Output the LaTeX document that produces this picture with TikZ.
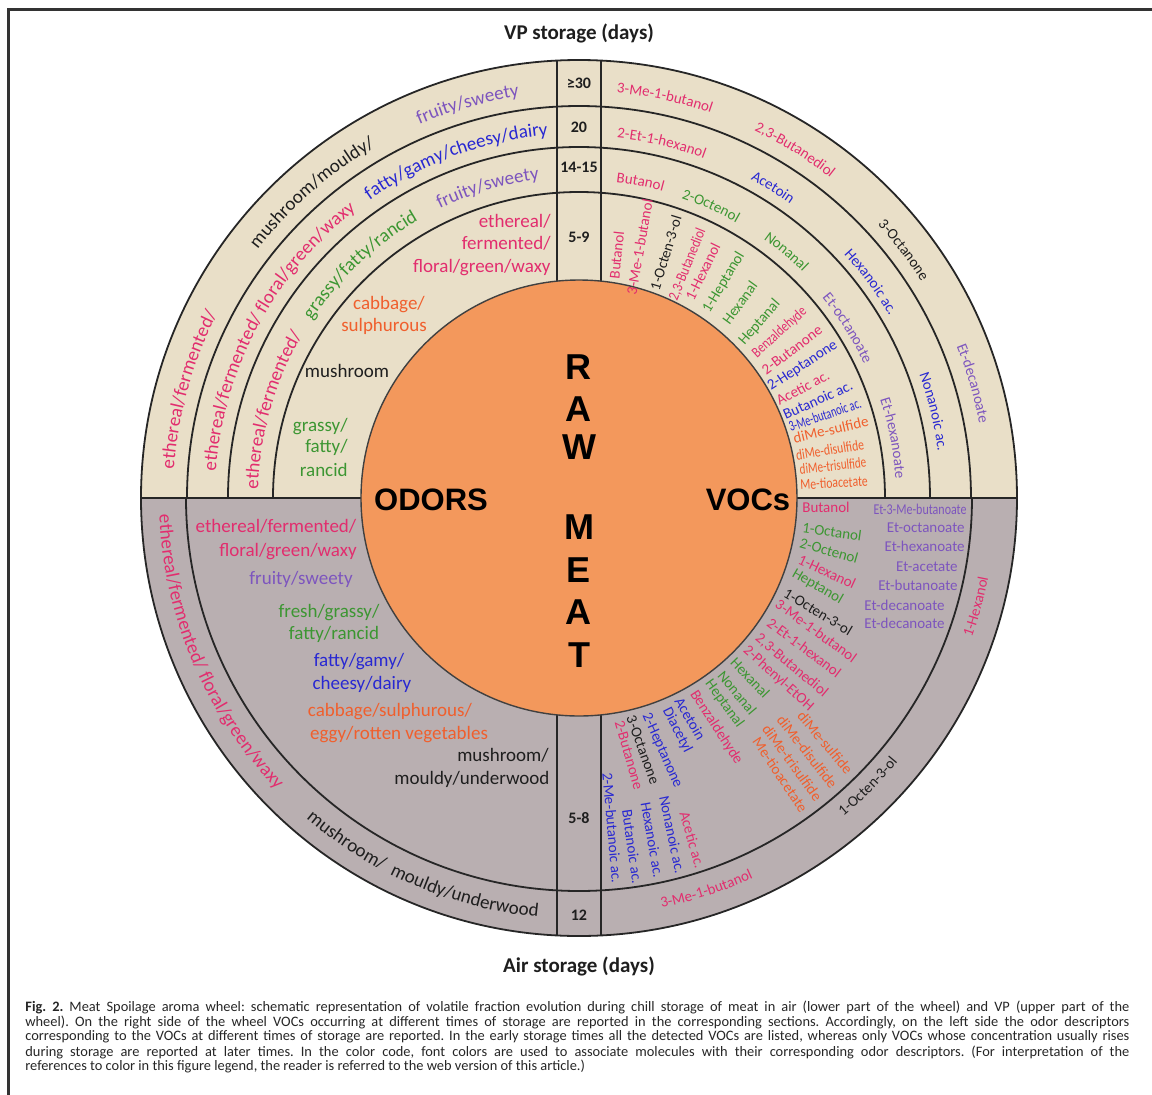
\documentclass[tikz,border=0pt]{standalone}
\usepackage{fontspec}
\usepackage{graphicx}
\setmainfont{Carlito}
\newfontfamily\heavyfont{Liberation Sans}
\usetikzlibrary{decorations.text}

\definecolor{wheelbeige}{RGB}{233,223,200}
\definecolor{wheelmauve}{RGB}{185,175,177}
\definecolor{meatorange}{RGB}{243,152,92}
\definecolor{cpink}{RGB}{226,45,110}
\definecolor{cpurple}{RGB}{125,85,190}
\definecolor{cblue}{RGB}{40,40,210}
\definecolor{cgreen}{RGB}{60,150,50}
\definecolor{corange}{RGB}{240,95,45}
\definecolor{cblack}{RGB}{30,30,30}

% text set along a ring, read clockwise (upper half) or counter-clockwise (lower half)
% #1 baseline radius, #2 centre angle, #3 colour, #4 font size, #5 text
\newcommand\ringtextcw[5]{\path[decorate,decoration={text along path,text align=center,text color=#3,text={|\fontsize{#4}{#4}\selectfont|#5}}] (#2+40:#1) arc[start angle=#2+40,end angle=#2-40,radius=#1];}
\newcommand\ringtextccw[5]{\path[decorate,decoration={text along path,text align=center,text color=#3,text={|\fontsize{#4}{#4}\selectfont|#5}}] (#2-40:#1) arc[start angle=#2-40,end angle=#2+40,radius=#1];}
\newcommand\squeeze[2]{\scalebox{#1}[1]{#2}}

\tikzset{
  ring/.style={draw=black!85, line width=0.9pt},
  odor/.style={inner sep=0pt, font=\fontsize{9.5}{11}\selectfont, text height=0.68em, text depth=0.2em},
  voc/.style={inner sep=0pt, font=\fontsize{7.5}{9}\selectfont, text height=0.68em, text depth=0.2em},
  day/.style={inner sep=0pt, font=\fontsize{8}{9}\selectfont\bfseries, text=cblack},
  heading/.style={inner sep=0pt, font=\fontsize{10.5}{12}\selectfont\bfseries, text=cblack},
  big/.style={inner sep=0pt, font=\heavyfont\bfseries\fontsize{18}{18}\selectfont, text=black},
  caption/.style={inner sep=0pt, anchor=west, font=\fontsize{7.2}{7.5}\selectfont\frenchspacing, text=black!85},
}

\begin{document}
\begin{tikzpicture}[x=0.5pt,y=0.5pt]
\useasboundingbox[fill=white] (-579,498) rectangle (573,-596);

% frame
\draw[line width=1.5pt, black!80] (-570,-600) -- (-570,489) -- (580,489);

% halves of the wheel
\fill[wheelbeige] (438,0) arc[start angle=0,end angle=180,radius=438] -- cycle;
\fill[wheelmauve] (-438,0) arc[start angle=180,end angle=360,radius=438] -- cycle;

% rings
\draw[ring] (0,0) circle[radius=438];
\foreach \r in {392,351,306} \draw[ring] (\r,0) arc[start angle=0,end angle=180,radius=\r];
\draw[ring] (-393,0) arc[start angle=180,end angle=360,radius=393];
\draw[ring] (-438,0) -- (-218,0);
\draw[ring] (218,0) -- (438,0);
% column of storage days
\draw[ring] (-22,437.4) -- (-22,216.9);
\draw[ring] (22,437.4) -- (22,216.9);
\draw[ring] (-22,-437.4) -- (-22,-216.9);
\draw[ring] (22,-437.4) -- (22,-216.9);

% raw meat core
\filldraw[fill=meatorange, draw=black!75, line width=0.7pt] (0,0) circle[radius=218];

% headings
\node[heading] (vp) at (0,465) {VP storage (days)};
\node[heading] (air) at (0,-468) {Air storage (days)};

% storage days
\node[day] (d30) at (0,415) {≥30};
\node[day] (d20) at (0,371) {20};
\node[day] (d14) at (0,331) {14-15};
\node[day] (d5) at (0,261) {5-9};
\node[day] (a5) at (0,-320) {5-8};
\node[day] (a12) at (0,-417) {12};

% core lettering
\node[big] (r1) at (0,131) {R};
\node[big] (r2) at (0,89) {A};
\node[big] (r3) at (0,51) {W};
\node[big] (m1) at (0,-29) {M};
\node[big] (m2) at (0,-72) {E};
\node[big] (m3) at (0,-114) {A};
\node[big] (m4) at (0,-157) {T};
\node[big, font=\heavyfont\bfseries\fontsize{15.5}{16}\selectfont] (odors) at (-148,-2) {ODORS};
\node[big, font=\heavyfont\bfseries\fontsize{15.5}{16}\selectfont] (vocs) at (169,-2) {VOCs};

% ---------- upper left: odors, vacuum packed ----------
\ringtextcw{406}{105.8}{cpurple}{9.5}{fruity/sweety}
\ringtextcw{406}{131.2}{cblack}{9.5}{mushroom/mouldy/}
\ringtextcw{406}{164.5}{cpink}{9.5}{ethereal/fermented/}
\ringtextcw{364}{110}{cblue}{9.5}{fatty/gamy/cheesy/dairy}
\ringtextcw{364}{151.8}{cpink}{9.5}{ethereal/fermented/ floral/green/waxy}
\ringtextcw{321}{106.4}{cpurple}{9.5}{fruity/sweety}
\ringtextcw{321}{133.2}{cgreen}{9.5}{grassy/fatty/rancid}
\ringtextcw{321}{164}{cpink}{9.5}{ethereal/fermented/}

\node[odor, text=cpink, anchor=east] (ul1) at (-28,275) {ethereal/};
\node[odor, text=cpink, anchor=east] (ul2) at (-28,253) {fermented/};
\node[odor, text=cpink, anchor=east] (ul3) at (-28,230) {floral/green/waxy};
\node[odor, text=corange] (ul4) at (-190,193) {cabbage/};
\node[odor, text=corange] (ul5) at (-195,171) {sulphurous};
\node[odor, text=cblack] (ul6) at (-232,125) {mushroom};
\node[odor, text=cgreen, anchor=east] (ul7) at (-231,71) {grassy/};
\node[odor, text=cgreen, anchor=east] (ul8) at (-231,50) {fatty/};
\node[odor, text=cgreen, anchor=east] (ul9) at (-231,26) {rancid};

% ---------- upper right: VOCs, vacuum packed ----------
\ringtextcw{407}{77.9}{cpink}{7.5}{3-Me-1-butanol}
\ringtextcw{407}{58.2}{cpink}{7.5}{2,3-Butanediol}
\ringtextcw{405}{37.4}{cblack}{7.5}{3-Octanone}
\ringtextcw{407}{16.2}{cpurple}{7.5}{Et-decanoate}
\ringtextcw{362}{76.9}{cpink}{7.5}{2-Et-1-hexanol}
\ringtextcw{362}{58}{cblue}{7.5}{Acetoin}
\ringtextcw{360}{36.5}{cblue}{7.5}{Hexanoic ac.}
\ringtextcw{362}{13.7}{cblue}{7.5}{Nonanoic ac.}
\ringtextcw{318}{79}{cpink}{7.5}{Butanol}
\ringtextcw{317}{65.7}{cgreen}{7.5}{2-Octenol}
\ringtextcw{318}{49.9}{cgreen}{7.5}{Nonanal}
\ringtextcw{315}{32.3}{cpurple}{7.5}{Et-octanoate}
\ringtextcw{317}{10.8}{cpurple}{7.5}{Et-hexanoate}

\node[voc, text=cpink, rotate=84] (ur1) at (38,243) {Butanol};
\node[voc, text=cpink, rotate=80] (ur2) at (61,251) {3-Me-1-butanol};
\node[voc, text=cblack, rotate=73] (ur3) at (87,245) {1-Octen-3-ol};
\node[voc, text=cpink, rotate=68] (ur4) at (108,234) {\squeeze{0.85}{2,3-Butanediol}};
\node[voc, text=cpink, rotate=64] (ur5) at (124,226) {1-Hexanol};
\node[voc, text=cgreen, rotate=59] (ur6) at (144,216) {1-Heptanol};
\node[voc, text=cgreen, rotate=54] (ur7) at (161,195) {Hexanal};
\node[voc, text=cgreen, rotate=49] (ur8) at (180,176) {Heptanal};
\node[voc, text=cpink, rotate=42] (ur9) at (200,166) {\squeeze{0.8}{Benzaldehyde}};
\node[voc, text=cpink, rotate=37] (ur10) at (213,148) {2-Butanone};
\node[voc, text=cblue, rotate=33] (ur11) at (223,133) {2-Heptanone};
\node[voc, text=cpink, rotate=28] (ur12) at (224,110) {Acetic ac.};
\node[voc, text=cblue, rotate=24] (ur13) at (239,98) {Butanoic ac.};
\node[voc, text=cblue, rotate=19] (ur14) at (246,83) {\squeeze{0.68}{3-Me-butanoic ac.}};
\node[voc, text=corange, rotate=13] (ur15) at (252,68) {diMe-sulfide};
\node[voc, text=corange, rotate=9] (ur16) at (251,48) {\squeeze{0.78}{diMe-disulfide}};
\node[voc, text=corange, rotate=6] (ur17) at (254,32) {\squeeze{0.74}{diMe-trisulfide}};
\node[voc, text=corange, rotate=3] (ur18) at (255,15) {\squeeze{0.78}{Me-tioacetate}};

% ---------- lower left: odors, air ----------
\ringtextccw{420}{-156.9}{cpink}{9.5}{ethereal/fermented/ floral/green/waxy}
\ringtextccw{421}{-113}{cblack}{9.5}{mushroom/ \ mouldy/underwood}

\node[odor, text=cpink] (ll1) at (-303,-30) {ethereal/fermented/};
\node[odor, text=cpink] (ll2) at (-291,-54) {floral/green/waxy};
\node[odor, text=cpurple] (ll3) at (-278,-82) {fruity/sweety};
\node[odor, text=cgreen] (ll4) at (-250,-115) {fresh/grassy/};
\node[odor, text=cgreen] (ll5) at (-245,-137) {fatty/rancid};
\node[odor, text=cblue] (ll6) at (-220,-164) {fatty/gamy/};
\node[odor, text=cblue] (ll7) at (-217,-187) {cheesy/dairy};
\node[odor, text=corange] (ll8) at (-189,-214) {cabbage/sulphurous/};
\node[odor, text=corange] (ll9) at (-180,-237) {eggy/rotten vegetables};
\node[odor, text=cblack] (ll10) at (-76,-259) {mushroom/};
\node[odor, text=cblack] (ll11) at (-107,-282) {mouldy/underwood};

% ---------- lower right: VOCs, air ----------
\ringtextccw{418}{-72}{cpink}{7.5}{3-Me-1-butanol}
\ringtextccw{414}{-45}{cblack}{7.5}{1-Octen-3-ol}
\ringtextccw{417}{-15.3}{cpink}{7.5}{1-Hexanol}

\node[voc, text=cpink, rotate=0] (lr1) at (247,-10) {Butanol};
\node[voc, text=cgreen, rotate=-8] (lr2) at (253,-34) {1-Octanol};
\node[voc, text=cgreen, rotate=-16] (lr3) at (250,-53) {2-Octenol};
\node[voc, text=cpink, rotate=-25] (lr4) at (248,-74) {1-Hexanol};
\node[voc, text=cgreen, rotate=-30] (lr5) at (239,-88) {Heptanol};
\node[voc, text=cblack, rotate=-31] (lr6) at (239,-114) {1-Octen-3-ol};
\node[voc, text=cpink, rotate=-36] (lr7) at (237,-133) {3-Me-1-butanol};
\node[voc, text=cpink, rotate=-37] (lr8) at (225,-150) {2-Et-1-hexanol};
\node[voc, text=cpink, rotate=-40] (lr9) at (213,-167) {2,3-Butanediol};
\node[voc, text=cpink, rotate=-42] (lr10) at (200,-180) {2-Phenyl-EtOH};
\node[voc, text=cgreen, rotate=-46] (lr11) at (171,-180) {Hexanal};
\node[voc, text=cgreen, rotate=-50] (lr12) at (158,-195) {Nonanal};
\node[voc, text=cgreen, rotate=-54] (lr13) at (146,-205) {Heptanal};
\node[voc, text=cpink, rotate=-57] (lr14) at (138,-229) {Benzaldehyde};
\node[voc, text=cblue, rotate=-60] (lr15) at (111,-221) {Acetoin};
\node[voc, text=cblue, rotate=-63] (lr16) at (99,-232) {Diacetyl};
\node[voc, text=cblue, rotate=-66] (lr17) at (84,-252) {2-Heptanone};
\node[voc, text=cblack, rotate=-70] (lr18) at (64,-252) {3-Octanone};
\node[voc, text=cpink, rotate=-74] (lr19) at (50,-257) {2-Butanone};

\node[voc, text=corange, rotate=-50] (ls1) at (246,-245) {diMe-sulfide};
\node[voc, text=corange, rotate=-52] (ls2) at (228,-254) {diMe-disulfide};
\node[voc, text=corange, rotate=-54] (ls3) at (213,-265) {diMe-trisulfide};
\node[voc, text=corange, rotate=-56] (ls4) at (201,-277) {Me-tioacetate};

\node[voc, text=cpink, rotate=-74] (la1) at (113,-342) {Acetic ac.};
\node[voc, text=cblue, rotate=-78] (la2) at (93,-337) {Nonanoic ac.};
\node[voc, text=cblue, rotate=-80] (la3) at (73,-342) {Hexanoic ac.};
\node[voc, text=cblue, rotate=-82] (la4) at (53,-349) {Butanoic ac.};
\node[voc, text=cblue, rotate=-85] (la5) at (33,-330) {2-Me-butanoic ac.};

\node[voc, text=cpurple, anchor=east] (le1) at (388,-12) {\squeeze{0.8}{Et-3-Me-butanoate}};
\node[voc, text=cpurple, anchor=east] (le2) at (386,-30) {Et-octanoate};
\node[voc, text=cpurple, anchor=east] (le3) at (386,-49) {Et-hexanoate};
\node[voc, text=cpurple, anchor=east] (le4) at (379,-69) {Et-acetate};
\node[voc, text=cpurple, anchor=east] (le5) at (379,-88) {Et-butanoate};
\node[voc, text=cpurple, anchor=east] (le6) at (366,-108) {Et-decanoate};
\node[voc, text=cpurple, anchor=east] (le7) at (366,-126) {Et-decanoate};

% ---------- caption ----------
\node[caption] (c1) at (-554,-509) {\makebox[552pt][s]{\textbf{Fig. 2.} Meat Spoilage aroma wheel: schematic representation of volatile fraction evolution during chill storage of meat in air (lower part of the wheel) and VP (upper part of the}};
\node[caption] (c2) at (-554,-524) {\makebox[552pt][s]{wheel). On the right side of the wheel VOCs occurring at different times of storage are reported in the corresponding sections. Accordingly, on the left side the odor descriptors}};
\node[caption] (c3) at (-554,-539) {\makebox[552pt][s]{corresponding to the VOCs at different times of storage are reported. In the early storage times all the detected VOCs are listed, whereas only VOCs whose concentration usually rises}};
\node[caption] (c4) at (-554,-554) {\makebox[552pt][s]{during storage are reported at later times. In the color code, font colors are used to associate molecules with their corresponding odor descriptors. (For interpretation of the}};
\node[caption] (c5) at (-554,-568) {references to color in this figure legend, the reader is referred to the web version of this article.)};
\end{tikzpicture}
\end{document}
